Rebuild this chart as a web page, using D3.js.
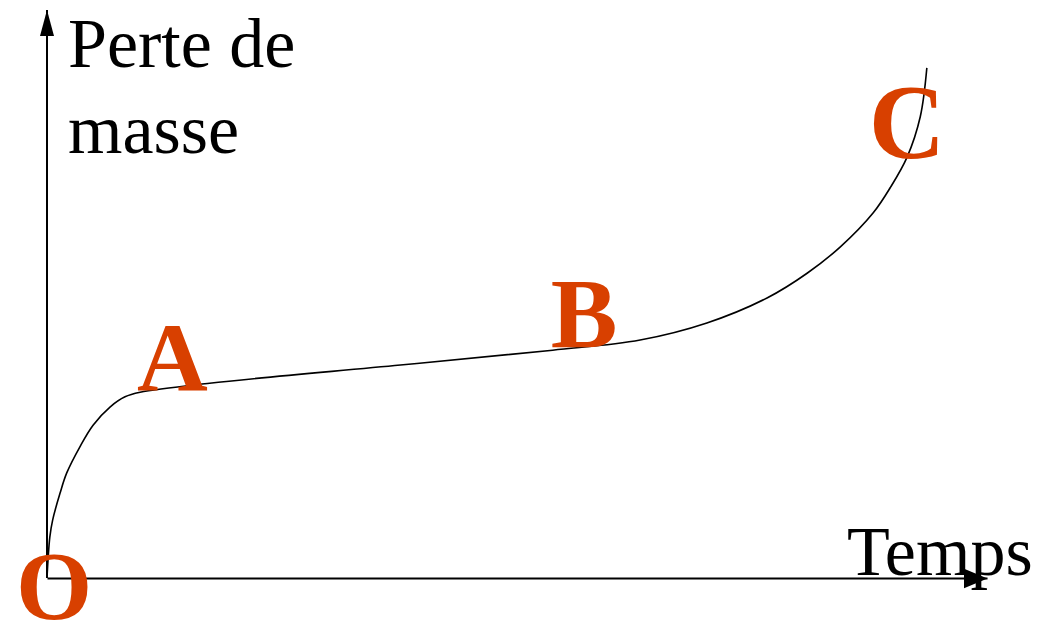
<!DOCTYPE html>
<html>
<head>
<meta charset="utf-8">
<script src="https://cdn.jsdelivr.net/npm/d3@7"></script>
<style>
  body { margin: 0; background: #fff; }
  text { font-family: "Liberation Serif", "Times New Roman", serif; }
</style>
</head>
<body>
<svg id="chart" width="1052" height="624"></svg>
<script>
// Data (arbitrary units, 0-100 on both axes)
const temps = [0, 0.3, 0.6, 1.4, 2.1, 3.5, 4.9, 6.7, 8.3, 9.9, 17.3, 37.6, 53.8,
  63.1, 70.2, 76.6, 80.9, 84.4, 87.9, 89.7, 91.5, 92.9, 93.6];
const perte = [0, 7.2, 10.2, 15.0, 18.5, 23.1, 26.9, 30.1, 31.9, 32.7, 34.3, 37.5, 40.1,
  41.9, 44.9, 49.3, 53.7, 58.3, 64.3, 68.7, 74.1, 81.2, 89.8];

// points O, A, B, C
const pointNames = ["O", "A", "B", "C"];
const pointT = [0, 9.9, 53.8, 93.6];

const yLabel = ["Perte de", "masse"];
const xLabel = "Temps";

// The svg
const svg = d3.select("#chart"),
  width = +svg.attr("width"),
  height = +svg.attr("height");

const x = d3.scaleLinear().domain([0, 100]).range([47, 987]);
const y = d3.scaleLinear().domain([0, 100]).range([578, 10]);

// arrowheads
const defs = svg.append("defs");
defs.append("marker")
  .attr("id", "arrowY")
  .attr("viewBox", "0 0 14 26")
  .attr("refX", 7).attr("refY", 0)
  .attr("markerWidth", 14).attr("markerHeight", 26)
  .attr("markerUnits", "userSpaceOnUse")
  .attr("orient", "0")
  .append("path")
    .attr("d", "M7,0 L14,26 L0,26 Z")
    .attr("fill", "#000");
defs.append("marker")
  .attr("id", "arrowX")
  .attr("viewBox", "0 0 24 20")
  .attr("refX", 24).attr("refY", 10)
  .attr("markerWidth", 24).attr("markerHeight", 20)
  .attr("markerUnits", "userSpaceOnUse")
  .attr("orient", "0")
  .append("path")
    .attr("d", "M0,0 L24,10 L0,20 Z")
    .attr("fill", "#000");

// axes (no ticks, just the lines)
const xAxis = svg.append("g")
  .attr("transform", `translate(0,${y(0)})`)
  .call(d3.axisBottom(x).ticks(0).tickSizeOuter(0));
xAxis.select(".domain")
  .attr("stroke", "#000")
  .attr("stroke-width", 2)
  .attr("marker-end", "url(#arrowX)");

const yAxis = svg.append("g")
  .attr("transform", `translate(${x(0)},0)`)
  .call(d3.axisLeft(y).ticks(0).tickSizeOuter(0));
yAxis.select(".domain")
  .attr("d", `M0,${y(0)}V${y(100)}`)
  .attr("stroke", "#000")
  .attr("stroke-width", 2)
  .attr("marker-end", "url(#arrowY)");

// the curve
const line = d3.line()
  .x((d, i) => x(temps[i]))
  .y((d, i) => y(perte[i]))
  .curve(d3.curveCatmullRom.alpha(0.5));

svg.append("path")
  .datum(temps)
  .attr("d", line)
  .attr("fill", "none")
  .attr("stroke", "#000")
  .attr("stroke-width", 1.6);

// axis titles
svg.append("text")
  .attr("x", 68)
  .attr("y", 67)
  .attr("font-size", 70)
  .attr("fill", "#000")
  .text(yLabel[0]);
svg.append("text")
  .attr("x", 68)
  .attr("y", 153)
  .attr("font-size", 70)
  .attr("fill", "#000")
  .text(yLabel[1]);
svg.append("text")
  .attr("x", 847)
  .attr("y", 575)
  .attr("font-size", 70)
  .attr("fill", "#000")
  .text(xLabel);

// point letters
const perteAt = t => perte[temps.indexOf(t)];
const labelOffsets = [[-31, 41], [-3, -2], [-2, -3], [-58, 90]];
const labelSizes = [98, 98, 100, 106];
svg.append("g")
  .selectAll("text")
  .data(pointNames)
  .enter()
  .append("text")
    .attr("x", (d, i) => x(pointT[i]) + labelOffsets[i][0])
    .attr("y", (d, i) => y(perteAt(pointT[i])) + labelOffsets[i][1])
    .attr("font-size", (d, i) => labelSizes[i])
    .attr("font-weight", "bold")
    .attr("fill", "#d84000")
    .text(d => d);
</script>
</body>
</html>
